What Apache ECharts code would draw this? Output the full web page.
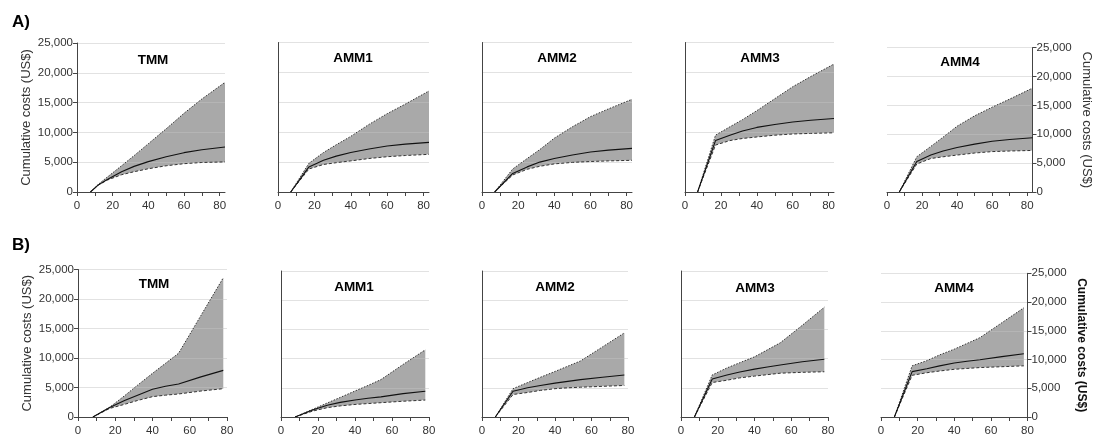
<!DOCTYPE html>
<html><head><meta charset="utf-8">
<script src="https://cdn.jsdelivr.net/npm/echarts@6/dist/echarts.min.js"></script>
<style>html,body{margin:0;padding:0;background:#fff}#c{width:1095px;height:437px}</style>
</head><body><div id="c"></div>
<script>
// ---------- DATA ----------
const panelNames = ['TMM', 'AMM1', 'AMM2', 'AMM3', 'AMM4'];
const rowLabels = ['A)', 'B)'];
const yAxisName = 'Cumulative costs (US$)';
const xTickLabels = [0, 20, 40, 60, 80];
const xTickMarks = [0, 10, 20, 30, 40, 50, 60, 70, 80];

// Row A x values
const xA_TMM = [7.5, 12, 17, 25, 32, 40, 50, 60, 70, 83];
const xA_AMM = [7, 17, 25, 32, 40, 50, 60, 70, 83];
// Row A values (US$)
const A_TMM_med = [0, 1200, 2100, 3400, 4300, 5100, 5900, 6600, 7100, 7550];
const A_TMM_low = [0, 1150, 2000, 2900, 3400, 3900, 4400, 4750, 4950, 5050];
const A_TMM_up  = [0, 1300, 2500, 4400, 6100, 8100, 10600, 13200, 15600, 18400];
const A_AMM1_med = [0, 4200, 5300, 6000, 6600, 7200, 7700, 8000, 8300];
const A_AMM1_low = [0, 3850, 4600, 4900, 5200, 5600, 5900, 6100, 6300];
const A_AMM1_up  = [0, 4800, 6600, 7900, 9300, 11300, 13100, 14700, 16900];
const A_AMM2_med = [0, 3100, 4200, 5000, 5600, 6200, 6700, 7000, 7300];
const A_AMM2_low = [0, 2850, 3800, 4300, 4700, 4950, 5100, 5200, 5300];
const A_AMM2_up  = [0, 3850, 5600, 7100, 9000, 10900, 12600, 13900, 15500];
const A_AMM3_med = [0, 8600, 9500, 10200, 10800, 11300, 11700, 12000, 12300];
const A_AMM3_low = [0, 7850, 8600, 8950, 9200, 9500, 9700, 9800, 9900];
const A_AMM3_up  = [0, 9500, 10900, 12100, 13600, 15600, 17600, 19300, 21400];
const A_AMM4_med = [0, 5300, 6400, 7100, 7700, 8300, 8800, 9100, 9400];
const A_AMM4_low = [0, 4850, 5800, 6100, 6400, 6750, 7000, 7100, 7200];
const A_AMM4_up  = [0, 6100, 7900, 9500, 11400, 13200, 14700, 16100, 18000];

// Row B x values
const xB_TMM = [8, 17, 25, 32, 40, 47, 54, 66, 78];
const xB_AMM1 = [7.6, 17, 25, 32, 40, 47, 54, 66, 78];
const xB_AMM = [7.3, 17, 25, 32, 40, 47, 54, 66, 78];
// Row B values (US$)
const B_TMM_med = [0, 1600, 2800, 3700, 4700, 5200, 5600, 6800, 7900];
const B_TMM_low = [0, 1450, 2150, 2800, 3450, 3700, 3900, 4400, 4800];
const B_TMM_up  = [0, 1650, 3600, 5400, 7400, 9100, 10800, 17200, 23600];
const B_AMM1_med = [0, 1200, 2000, 2500, 2900, 3200, 3450, 4000, 4400];
const B_AMM1_low = [0, 1000, 1600, 1900, 2150, 2300, 2450, 2700, 2900];
const B_AMM1_up  = [0, 1300, 2400, 3350, 4450, 5400, 6400, 9000, 11500];
const B_AMM2_med = [0, 4400, 5000, 5400, 5800, 6100, 6400, 6800, 7200];
const B_AMM2_low = [0, 3850, 4200, 4550, 4850, 5000, 5100, 5250, 5400];
const B_AMM2_up  = [0, 4850, 5900, 6800, 7800, 8700, 9600, 12000, 14400];
const B_AMM3_med = [0, 6500, 7200, 7700, 8200, 8550, 8900, 9450, 9900];
const B_AMM3_low = [0, 5900, 6300, 6700, 7000, 7250, 7500, 7650, 7750];
const B_AMM3_up  = [0, 7200, 8400, 9300, 10300, 11500, 12700, 15700, 18800];
const B_AMM4_med = [0, 7900, 8400, 8900, 9400, 9700, 9950, 10500, 11000];
const B_AMM4_low = [0, 7250, 7700, 8000, 8300, 8450, 8600, 8750, 8900];
const B_AMM4_up  = [0, 8900, 9800, 10800, 11800, 12800, 13800, 16400, 19000];

const panels = [
  {x: xA_TMM, med: A_TMM_med, low: A_TMM_low, up: A_TMM_up},
  {x: xA_AMM, med: A_AMM1_med, low: A_AMM1_low, up: A_AMM1_up},
  {x: xA_AMM, med: A_AMM2_med, low: A_AMM2_low, up: A_AMM2_up},
  {x: xA_AMM, med: A_AMM3_med, low: A_AMM3_low, up: A_AMM3_up},
  {x: xA_AMM, med: A_AMM4_med, low: A_AMM4_low, up: A_AMM4_up},
  {x: xB_TMM, med: B_TMM_med, low: B_TMM_low, up: B_TMM_up},
  {x: xB_AMM1, med: B_AMM1_med, low: B_AMM1_low, up: B_AMM1_up},
  {x: xB_AMM, med: B_AMM2_med, low: B_AMM2_low, up: B_AMM2_up},
  {x: xB_AMM, med: B_AMM3_med, low: B_AMM3_low, up: B_AMM3_up},
  {x: xB_AMM, med: B_AMM4_med, low: B_AMM4_low, up: B_AMM4_up}
];

// ---------- LAYOUT ----------
const grids = [
  {left: 77, top: 43, width: 148, height: 149},
  {left: 278, top: 42.5, width: 151, height: 149.5},
  {left: 482, top: 42.5, width: 150, height: 149.5},
  {left: 685, top: 42.5, width: 149, height: 149.5},
  {left: 887, top: 47.7, width: 145.5, height: 144.3},
  {left: 78, top: 269.5, width: 149, height: 148.7},
  {left: 281, top: 271, width: 148, height: 148},
  {left: 482, top: 271, width: 146, height: 148},
  {left: 681, top: 271, width: 147, height: 148},
  {left: 881, top: 273.3, width: 146.5, height: 145.7}
];
const titlePos = [[153,60],[353,58],[557,58],[760,58],[960,62],[154,284],[354,287],[555,287],[755,288],[954,288]];

const FONT = '"Liberation Sans", Arial, sans-serif';
const axisColor = '#444';
const fmt = v => v.toLocaleString('en-US');

const xAxes = [], yAxes = [], series = [], graphics = [];
panels.forEach((p, i) => {
  const row = i < 5 ? 0 : 1;
  const col = i % 5;
  xAxes.push({
    type: 'value', gridIndex: i, min: 0, max: row === 0 ? 83 : 80, z: 5,
    axisLine: {show: true, onZero: false, lineStyle: {color: axisColor, width: 1}},
    axisTick: {show: true, length: 4, customValues: xTickMarks, lineStyle: {color: axisColor}},
    axisLabel: {show: true, customValues: xTickLabels, fontSize: 11.5, color: '#333', fontFamily: FONT, margin: 8},
    splitLine: {show: false}
  });
  const isLeft = col === 0, isRight = col === 4;
  yAxes.push({
    type: 'value', gridIndex: i, min: 0, max: 25000, interval: 5000, z: 2,
    position: isRight ? 'right' : 'left',
    axisLine: {show: true, onZero: false, lineStyle: {color: axisColor, width: 1}},
    axisTick: {show: isLeft || isRight, length: 4, lineStyle: {color: axisColor}},
    axisLabel: {show: isLeft || isRight, formatter: fmt, fontSize: 11.5, color: '#333', fontFamily: FONT, margin: 4},
    splitLine: {show: true, lineStyle: {color: 'rgba(194,194,194,0.48)', width: 1}},
    name: (isLeft || isRight) ? yAxisName : '',
    nameLocation: 'middle',
    nameRotate: isRight ? -90 : 90,
    nameGap: isRight ? 48 : 44,
    nameTextStyle: {
      fontSize: (isRight && row === 1) ? 12 : 13,
      fontWeight: (isRight && row === 1) ? 'bold' : 'normal',
      color: (isRight && row === 1) ? '#111' : '#333',
      fontFamily: FONT
    }
  });
  const pairs = arr => p.x.map((x, k) => [x, arr[k]]);
  // band between lower and upper, drawn as polygon through the axis scales
  series.push({
    type: 'custom', xAxisIndex: i, yAxisIndex: i, silent: true, z: 1,
    data: p.x.map((x, k) => [x, p.low[k], p.up[k]]),
    encode: {x: 0, y: [1, 2]},
    renderItem: (params, api) => {
      if (params.dataIndex !== 0) return null;
      const top = p.x.map((x, k) => api.coord([x, p.up[k]]));
      const bot = p.x.map((x, k) => api.coord([x, p.low[k]])).reverse();
      return {type: 'polygon', shape: {points: top.concat(bot)}, style: {fill: '#a9a9a9'}};
    }
  });
  series.push({
    type: 'line', xAxisIndex: i, yAxisIndex: i, data: pairs(p.up), symbol: 'none',
    lineStyle: {color: '#333', width: 1, type: [1.5, 1.5]}, z: 3
  });
  series.push({
    type: 'line', xAxisIndex: i, yAxisIndex: i, data: pairs(p.low), symbol: 'none',
    lineStyle: {color: '#333', width: 1, type: [3, 2]}, z: 3
  });
  series.push({
    type: 'line', xAxisIndex: i, yAxisIndex: i, data: pairs(p.med), symbol: 'none',
    lineStyle: {color: '#111', width: 1.1}, z: 4
  });
  graphics.push({
    type: 'text', x: titlePos[i][0], y: titlePos[i][1], z: 10,
    style: {text: panelNames[col], font: 'bold 13.5px ' + FONT, fill: '#000', textAlign: 'center', textVerticalAlign: 'middle'}
  });
});
graphics.push({type: 'text', x: 12, y: 22, style: {text: rowLabels[0], font: 'bold 17px ' + FONT, fill: '#000', textVerticalAlign: 'middle'}});
graphics.push({type: 'text', x: 12, y: 245, style: {text: rowLabels[1], font: 'bold 17px ' + FONT, fill: '#000', textVerticalAlign: 'middle'}});

const chart = echarts.init(document.getElementById('c'), null, {renderer: 'canvas'});
chart.setOption({
  animation: false,
  backgroundColor: '#fff',
  textStyle: {fontFamily: FONT},
  grid: grids,
  xAxis: xAxes,
  yAxis: yAxes,
  series: series,
  graphic: graphics
});
</script>
</body></html>
